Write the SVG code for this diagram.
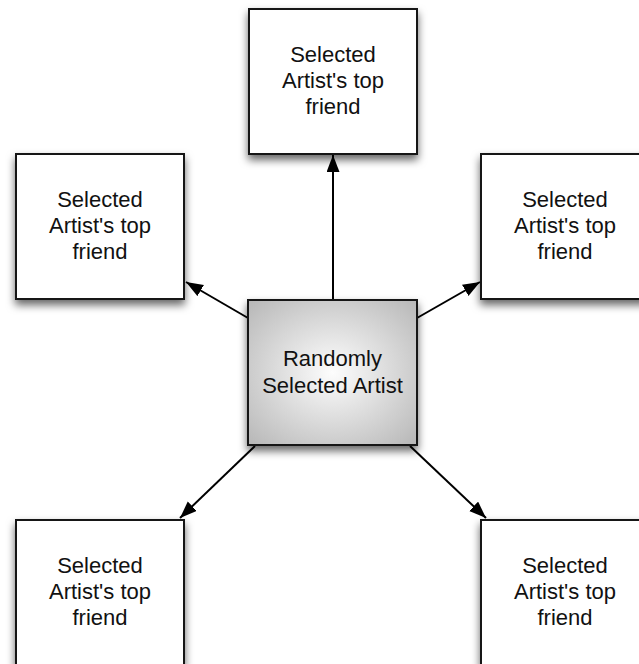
<svg xmlns="http://www.w3.org/2000/svg" width="639" height="664" viewBox="0 0 639 664">
  <style>
    .box { fill: #ffffff; stroke: #151515; stroke-width: 2; filter: url(#shadow); }
    .hub { fill: url(#hubFill); stroke: #151515; stroke-width: 2; filter: url(#shadow); }
    .label { font-family: "Liberation Sans", Arial, sans-serif; font-size: 22px; fill: #111111; text-anchor: middle; }
    .edge { stroke: #000000; stroke-width: 2; fill: none; marker-end: url(#arrow); }
  </style>
  <defs>
    <filter id="shadow" x="-20%" y="-20%" width="140%" height="150%">
      <feDropShadow dx="0" dy="5" stdDeviation="4" flood-color="#000000" flood-opacity="0.6"/>
    </filter>
    <radialGradient id="hubFill" cx="50%" cy="50%" r="75%">
      <stop offset="0" stop-color="#fdfdfd"/>
      <stop offset="1" stop-color="#b2b2b2"/>
    </radialGradient>
    <marker id="arrow" markerUnits="userSpaceOnUse" markerWidth="18" markerHeight="14" refX="17" refY="6.5" orient="auto">
      <path d="M0,0 L17,6.5 L0,13 Z" fill="#000000"/>
    </marker>
  </defs>

  <!-- connectors from the hub to each friend -->
  <g id="connectors">
    <line class="edge" x1="333" y1="300" x2="333" y2="155"/>
    <line class="edge" x1="248" y1="318" x2="186" y2="282"/>
    <line class="edge" x1="417" y1="318" x2="480" y2="282"/>
    <line class="edge" x1="255" y1="446" x2="180" y2="518"/>
    <line class="edge" x1="410" y1="446" x2="486" y2="518"/>
  </g>

  <g id="friend-top">
    <rect class="box" x="249" y="9" width="168" height="145"/>
    <text class="label" x="333" y="62">Selected</text>
    <text class="label" x="333" y="88">Artist's top</text>
    <text class="label" x="333" y="114">friend</text>
  </g>

  <g id="friend-left">
    <rect class="box" x="16" y="154" width="168" height="145"/>
    <text class="label" x="100" y="207">Selected</text>
    <text class="label" x="100" y="233">Artist's top</text>
    <text class="label" x="100" y="259">friend</text>
  </g>

  <g id="friend-right">
    <rect class="box" x="481" y="154" width="168" height="145"/>
    <text class="label" x="565" y="207">Selected</text>
    <text class="label" x="565" y="233">Artist's top</text>
    <text class="label" x="565" y="259">friend</text>
  </g>

  <g id="friend-bottom-left">
    <rect class="box" x="16" y="520" width="168" height="145"/>
    <text class="label" x="100" y="573">Selected</text>
    <text class="label" x="100" y="599">Artist's top</text>
    <text class="label" x="100" y="625">friend</text>
  </g>

  <g id="friend-bottom-right">
    <rect class="box" x="481" y="520" width="168" height="145"/>
    <text class="label" x="565" y="573">Selected</text>
    <text class="label" x="565" y="599">Artist's top</text>
    <text class="label" x="565" y="625">friend</text>
  </g>

  <g id="random-artist">
    <rect class="hub" x="248" y="300" width="169" height="145"/>
    <text class="label" x="332.5" y="366">Randomly</text>
    <text class="label" x="332.5" y="393">Selected Artist</text>
  </g>
</svg>
